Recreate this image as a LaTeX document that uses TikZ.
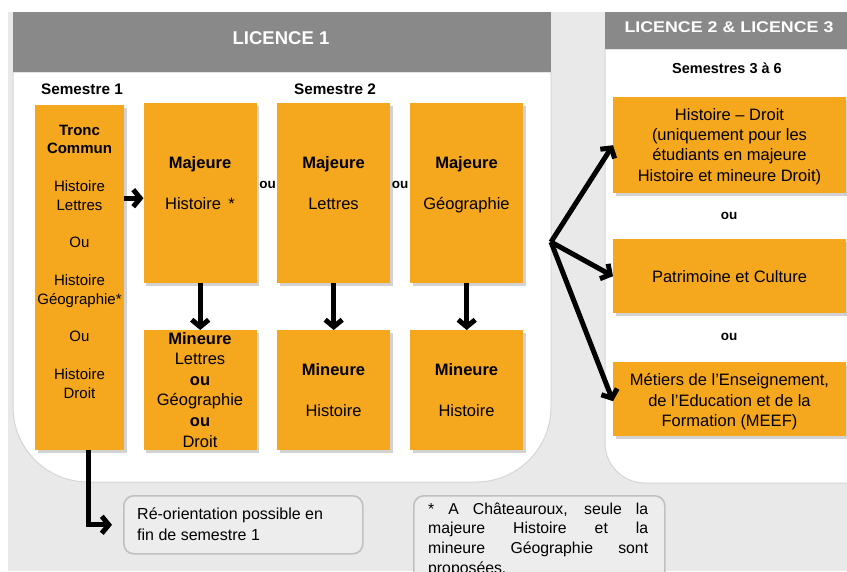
\documentclass[tikz,border=0pt]{standalone}
\usepackage{fontspec}
\setmainfont{Liberation Sans}
\usetikzlibrary{arrows.meta,shadows,calc}
\definecolor{orangebox}{RGB}{245,167,30}
\definecolor{hdrgray}{RGB}{137,137,137}
\definecolor{bggray}{RGB}{233,233,233}
\definecolor{notebg}{RGB}{237,237,237}
\definecolor{noteedge}{RGB}{192,192,192}
\begin{document}
\begin{tikzpicture}[x=1pt,y=-1pt,
  obox/.style={fill=orangebox, inner sep=0pt, anchor=north west,
    drop shadow={shadow xshift=2.5pt,shadow yshift=-2.5pt,opacity=0.35}},
  btxt/.style={inner sep=0pt, align=center, anchor=north, font=\fontsize{16.5}{20.5}\selectfont},
  ou/.style={inner sep=0pt, font=\fontsize{13.5}{15}\selectfont\bfseries},
  sem/.style={inner sep=0pt, font=\fontsize{15.3}{18}\selectfont\bfseries},
  hdr/.style={inner sep=0pt, text=white, font=\bfseries},
  note/.style={fill=notebg, draw=noteedge, line width=1.6pt, rounded corners=10pt},
  panel/.style={fill=white, draw=black!16, line width=1pt},
  arr/.style={line width=5pt, -{Straight Barb[length=7pt,width=17pt]}}
]
\useasboundingbox (0,0) rectangle (847,571);
\clip (0,0) rectangle (847,571);
% background
\fill[white] (0,0) rectangle (847,571);
\fill[bggray] (8,12) rectangle (847,571);

% ---- Licence 1 panel
\path[panel] (13,72) -- (13,200) [rounded corners=75pt] -- (13,482) -- (551,482) -- (551,200) [sharp corners] -- (551,72) -- cycle;
\fill[hdrgray] (13,12) rectangle (551,72);
\node[hdr, font=\fontsize{18.5}{20}\selectfont\bfseries] (l1) at (281,38) {LICENCE 1};

% ---- Licence 2 & 3 panel
\path[panel] (605,49) -- (605,300) [rounded corners=40pt] -- (605,483) -- (700,483) [sharp corners] -- (852,483) -- (852,49) -- cycle;
\fill[hdrgray] (605,12) rectangle (852,49);
\node[hdr, font=\fontsize{15.5}{18}\selectfont\bfseries] (l23) at (729,27) {\scalebox{1.15}[1]{LICENCE 2 \& LICENCE 3}};

% ---- semester labels
\node[sem] (s1) at (82,89) {Semestre 1};
\node[sem] (s2) at (335,89) {Semestre 2};
\node[sem, font=\fontsize{14.5}{17}\selectfont\bfseries] (s36) at (727,68) {Semestres 3 à 6};

% ---- orange boxes
\node[obox, minimum width=89pt, minimum height=345pt] (tronc) at (35,105) {};
\node[obox, minimum width=113pt, minimum height=180pt] (majH) at (143.5,103) {};
\node[obox, minimum width=113pt, minimum height=180pt] (majL) at (277,103) {};
\node[obox, minimum width=113pt, minimum height=180pt] (majG) at (410,103) {};
\node[obox, minimum width=113pt, minimum height=120pt] (minH) at (143.5,330) {};
\node[obox, minimum width=113pt, minimum height=120pt] (minL) at (277,330) {};
\node[obox, minimum width=113pt, minimum height=120pt] (minG) at (410,330) {};
\node[obox, minimum width=233pt, minimum height=96pt] (hd) at (613,97) {};
\node[obox, minimum width=233pt, minimum height=74pt] (pat) at (613,239) {};
\node[obox, minimum width=233pt, minimum height=74pt] (meef) at (613,362) {};

% ---- box texts
\node[btxt, font=\fontsize{15}{18.8}\selectfont] (troncT) at (79.5,124.6)
  {\textbf{Tronc}\\\textbf{Commun}\\[18.8pt]Histoire\\Lettres\\[18.8pt]Ou\\[18.8pt]Histoire\\Géographie*\\[18.8pt]Ou\\[18.8pt]Histoire\\Droit};
\node[btxt] (majHT) at (200,156) {\textbf{Majeure}\\[20.5pt]Histoire \,*};
\node[btxt] (majLT) at (333.5,156) {\textbf{Majeure}\\[20.5pt]Lettres};
\node[btxt] (majGT) at (466.5,156) {\textbf{Majeure}\\[20.5pt]Géographie};
\node[btxt, font=\fontsize{16.5}{20.6}\selectfont] (minHT) at (200,332)
  {\textbf{Mineure}\\Lettres\\\textbf{ou}\\Géographie\\\textbf{ou}\\Droit};
\node[btxt] (minLT) at (333.5,363) {\textbf{Mineure}\\[20.5pt]Histoire};
\node[btxt] (minGT) at (466.5,363) {\textbf{Mineure}\\[20.5pt]Histoire};
\node[btxt, font=\fontsize{16.5}{20.3}\selectfont] (hdT) at (729.5,108)
  {Histoire – Droit\\(uniquement pour les\\étudiants en majeure\\Histoire et mineure Droit)};
\node[btxt, anchor=center] (patT) at (729.5,277) {Patrimoine et Culture};
\node[btxt, font=\fontsize{16.5}{20.8}\selectfont] (meefT) at (729.5,373)
  {Métiers de l’Enseignement,\\de l’Education et de la\\Formation (MEEF)};

% ---- "ou" labels
\node[ou] (ou1) at (267.5,185) {ou};
\node[ou] (ou2) at (400,185) {ou};
\node[ou] (ou3) at (729,216) {ou};
\node[ou] (ou4) at (729,337) {ou};

% ---- notes
\node[note, minimum width=239pt, minimum height=58pt, anchor=north west] (reo) at (123,495) {};
\node[inner sep=0pt, align=left, anchor=north west, font=\fontsize{16}{21}\selectfont] (reoT) at (137,507.5)
  {Ré-orientation possible en\\fin de semestre 1};
\node[note, minimum width=251pt, minimum height=110pt, anchor=north west] (fn) at (413,495) {};
\node[inner sep=0pt, text width=220pt, align=justify, anchor=north west, font=\fontsize{15.8}{19.7}\selectfont] (fnT) at (428,502.5)
  {* A Châteauroux, seule la\linebreak majeure Histoire et la\linebreak mineure Géographie sont\linebreak proposées.};

% ---- arrows
\draw[arr] ([yshift=-5pt]majH.west -| tronc.east) -- ([yshift=-5pt]majH.west);
\draw[arr] (majH.south) -- (minH.north);
\draw[arr] (majL.south) -- (minL.north);
\draw[arr] (majG.south) -- (minG.north);
\draw[arr, shorten >=11pt] ([xshift=8.5pt]tronc.south) |- (reo.west);
\coordinate (fan) at (551,242);
\draw[arr] (fan) -- (hd.west);
\draw[arr] (fan) -- (pat.west);
\draw[arr] (fan) -- ([yshift=-2pt]meef.west);
\end{tikzpicture}
\end{document}
